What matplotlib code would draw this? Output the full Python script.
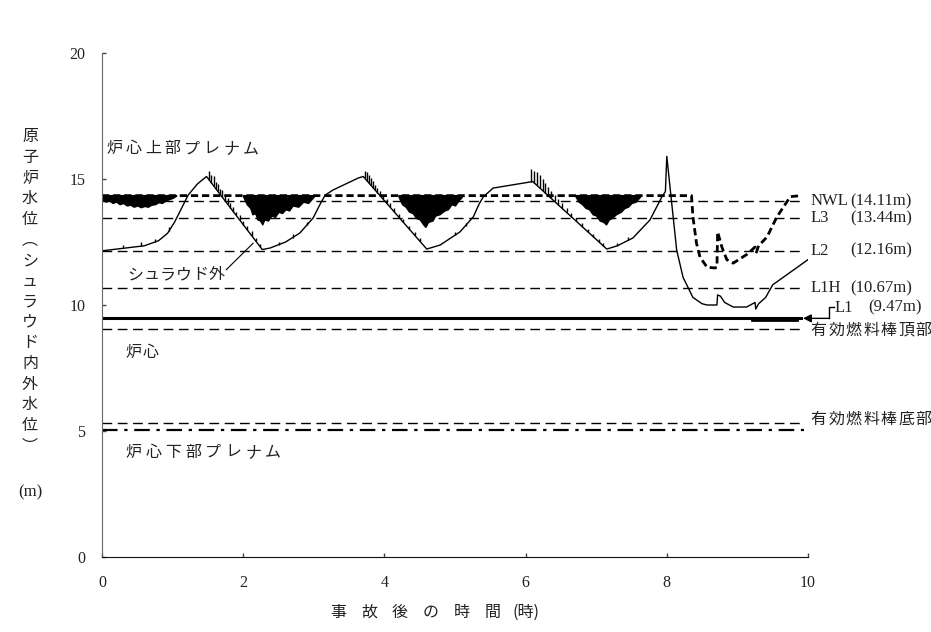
import numpy as np
import matplotlib
matplotlib.use("Agg")
import matplotlib.pyplot as plt
from matplotlib.transforms import offset_copy

# ---------------- data ----------------
# water level outside shroud (solid thin line)
out_t = [0.0, 0.3, 0.6, 0.8, 0.93, 1.03, 1.12, 1.22, 1.35, 1.48,
         2.27, 2.38, 2.6, 2.8, 2.99, 3.08, 3.16, 3.27, 3.45, 3.63, 3.7,
         4.6, 4.79, 5.07, 5.26, 5.34, 5.4, 5.54, 5.8, 6.06, 6.1,
         7.15, 7.3, 7.52, 7.76, 7.93, 7.98, 8.0, 8.05, 8.14, 8.23, 8.37, 8.5, 8.57,
         8.71, 8.72, 8.76, 8.82, 8.94, 9.13, 9.25, 9.26, 9.3, 9.4, 9.5, 9.7, 10.0]
out_h = [12.15, 12.25, 12.35, 12.55, 12.85, 13.3, 13.8, 14.36, 14.8, 15.1,
         12.2, 12.26, 12.5, 12.85, 13.45, 13.95, 14.36, 14.56, 14.8, 15.04, 15.1,
         12.22, 12.38, 12.9, 13.5, 14.0, 14.29, 14.64, 14.76, 14.88, 14.9,
         12.22, 12.35, 12.66, 13.37, 14.29, 14.5, 15.9, 14.56, 12.18, 11.1, 10.3, 10.05, 10.0,
         10.0, 10.4, 10.35, 10.1, 9.92, 9.92, 10.1, 9.84, 10.05, 10.3, 10.8, 11.2, 11.8]

# water level inside shroud (thick dashed line)
in_t = [0.0, 8.35, 8.37, 8.42, 8.47, 8.57, 8.68, 8.71, 8.72, 8.78, 8.85, 8.94,
        9.13, 9.25, 9.27, 9.3, 9.42, 9.56, 9.75, 9.9]
in_h = [14.34, 14.34, 13.5, 12.46, 11.9, 11.5, 11.47, 11.5, 12.9, 12.3, 11.8, 11.66,
        12.0, 12.3, 12.1, 12.35, 12.7, 13.5, 14.3, 14.34]

# oscillation bands (lower envelope below the inside level)
band_top = 14.36
band1_t = [0.0, 0.05, 0.1, 0.15, 0.2, 0.25, 0.3, 0.35, 0.4, 0.45, 0.5, 0.55, 0.6, 0.65, 0.7,
           0.75, 0.8, 0.85, 0.9, 0.95, 1.0, 1.05]
band1_h = [14.2, 14.1, 14.15, 14.05, 14.1, 14.0, 14.05, 13.95, 13.98, 13.9, 13.95, 13.88, 13.93,
           13.9, 13.98, 14.0, 14.08, 14.05, 14.15, 14.2, 14.25, 14.34]
band2_t = [2.0, 2.05, 2.1, 2.13, 2.17, 2.2, 2.24, 2.27, 2.3, 2.35, 2.4, 2.45, 2.5, 2.55, 2.6,
           2.65, 2.7, 2.78, 2.85, 2.92, 3.0]
band2_h = [14.3, 14.0, 13.85, 13.6, 13.65, 13.4, 13.35, 13.2, 13.4, 13.35, 13.55, 13.5, 13.7,
           13.65, 13.8, 13.75, 13.95, 13.9, 14.1, 14.05, 14.3]
band3_t = [4.2, 4.25, 4.3, 4.35, 4.4, 4.45, 4.5, 4.55, 4.58, 4.62, 4.68, 4.72, 4.78, 4.85,
           4.9, 4.95, 5.0, 5.05, 5.1]
band3_h = [14.3, 14.0, 13.9, 13.7, 13.65, 13.45, 13.4, 13.2, 13.1, 13.3, 13.35, 13.55, 13.6,
           13.75, 13.8, 14.0, 13.95, 14.15, 14.3]
band4_t = [6.7, 6.75, 6.8, 6.85, 6.9, 6.95, 7.0, 7.05, 7.1, 7.14, 7.18, 7.22, 7.28, 7.35,
           7.4, 7.45, 7.5, 7.56, 7.62]
band4_h = [14.34, 14.1, 14.0, 13.85, 13.8, 13.6, 13.55, 13.35, 13.3, 13.2, 13.4, 13.45, 13.6,
           13.7, 13.85, 13.9, 14.05, 14.1, 14.3]

# short spikes along the outside-level curve
spike_t = [0.3, 0.55, 0.75, 0.95,
           1.52, 1.55, 1.58, 1.61, 1.64, 1.67, 1.7, 1.74, 1.78, 1.82, 1.86, 1.9, 1.95, 2.0,
           2.06, 2.12, 2.18, 2.24,
           2.5, 2.7, 2.9,
           3.72, 3.75, 3.78, 3.81, 3.84, 3.87, 3.9, 3.94, 3.98, 4.03, 4.08, 4.14, 4.2, 4.27,
           4.35, 4.43, 4.5,
           5.0, 5.15,
           6.08, 6.12, 6.16, 6.2, 6.24, 6.28, 6.32, 6.36, 6.41, 6.46, 6.52, 6.58, 6.65, 6.72,
           6.8, 6.88, 6.96, 7.04, 7.1,
           7.3, 7.45]
spike_dh = [0.12, 0.15, 0.12, 0.15,
            0.35, 0.3, 0.4, 0.25, 0.3, 0.2, 0.28, 0.22, 0.25, 0.18, 0.2, 0.15, 0.2, 0.15,
            0.15, 0.18, 0.12, 0.12,
            0.12, 0.15, 0.12,
            0.3, 0.35, 0.3, 0.28, 0.25, 0.22, 0.2, 0.2, 0.18, 0.15, 0.18, 0.15, 0.12, 0.15,
            0.12, 0.12, 0.1,
            0.12, 0.12,
            0.5, 0.45, 0.55, 0.5, 0.45, 0.4, 0.35, 0.3, 0.25, 0.22, 0.2, 0.18, 0.15, 0.15,
            0.15, 0.12, 0.12, 0.1, 0.1,
            0.12, 0.12]

# reference levels
ref_names = ["NWL", "L3", "L2", "L1H"]
ref_vals = [14.11, 13.44, 12.16, 10.67]
ref_text = ["(14.11m)", "(13.44m)", "(12.16m)", "(10.67m)"]
l1_val = 9.47
taf_val = 9.05      # 有効燃料棒頂部
baf_val = 5.3       # 有効燃料棒底部
lower_plenum_val = 5.05

xticks = [0, 2, 4, 6, 8, 10]
yticks = [0, 5, 10, 15, 20]

# ---------------- plot ----------------
JP = ["Noto Sans CJK JP", "DejaVu Sans"]
SERIF = ["Liberation Serif", "Noto Sans CJK JP"]
TXT = "#222222"
JPSIZE = 11.5

W, H = 931, 632
fig = plt.figure(figsize=(W / 100, H / 100), dpi=100)
ax = fig.add_axes([102 / W, (H - 557) / H, 706 / W, (557 - 53) / H])
ax.set_xlim(0, 10)
ax.set_ylim(0, 20)

for s in ["top", "right"]:
    ax.spines[s].set_visible(False)
ax.spines["left"].set_color("#666666")
ax.spines["bottom"].set_color("#111111")
ax.set_xticks(xticks)
ax.set_yticks(yticks)
ax.tick_params(direction="in", length=3, width=1, colors="#444444", labelcolor=TXT)
ax.tick_params(axis="x", pad=13)
ax.tick_params(axis="y", pad=12)
for lab in ax.get_xticklabels() + ax.get_yticklabels():
    lab.set_family(SERIF)
    lab.set_fontsize(11.5)

dash = (0, (7, 4))
# reference dashed lines
for v in ref_vals:
    ax.plot([0, 9.95], [v, v], color="black", lw=1.0, ls=dash)
ax.plot([0, 9.95], [taf_val, taf_val], color="black", lw=1.0, ls=dash)
ax.plot([0, 9.95], [baf_val, baf_val], color="black", lw=1.0, ls=dash)
ax.plot([0, 9.95], [lower_plenum_val, lower_plenum_val], color="black", lw=1.6,
        ls=(0, (7, 3, 1.5, 3)))

# L1 thick line
ax.plot([0, 9.9], [l1_val, l1_val], color="black", lw=2.2)
ax.plot([9.2, 9.85], [l1_val - 0.06, l1_val - 0.06], color="black", lw=2.0)
ax.annotate("", xy=(9.93, l1_val), xytext=(10.3, l1_val),
            arrowprops=dict(arrowstyle="-|>", color="black", lw=1.0,
                            mutation_scale=12, shrinkA=0, shrinkB=0),
            annotation_clip=False)
ax.plot([10.3, 10.3, 10.37], [l1_val, 9.93, 9.93], color="black", lw=1.0, clip_on=False)

# oscillation bands
for bt, bh in [(band1_t, band1_h), (band2_t, band2_h), (band3_t, band3_h), (band4_t, band4_h)]:
    ax.fill_between(bt, bh, band_top, color="black", lw=1.0, edgecolor="black")

# inside level (thick dashed)
ax.plot(in_t, in_h, color="black", lw=2.0, ls=(0, (2.6, 1.4)))

# outside level
ax.plot(out_t, out_h, color="black", lw=1.0)
base = np.interp(spike_t, out_t, out_h)
ax.vlines(spike_t, base, base + np.array(spike_dh), color="black", lw=1.0)


def spaced(x, y, s, step, size=JPSIZE, family=JP, **kw):
    for i, ch in enumerate(s):
        tr = offset_copy(ax.transData, fig=fig, x=i * step, y=0, units="dots")
        ax.text(x, y, ch, transform=tr, ha="left", va="center", clip_on=False,
                family=family, fontsize=size, color=TXT, **kw)


spaced(0.06, 16.2, "炉心上部プレナム", 19.5)
spaced(0.36, 11.2, "シュラウド外", 16.3)
spaced(0.33, 8.1, "炉心", 17.5)
spaced(0.33, 4.15, "炉心下部プレナム", 20)
ax.plot([1.76, 2.14], [11.4, 12.45], color="black", lw=0.8)

# right-hand labels
for n, v, t in zip(ref_names, ref_vals, ref_text):
    ax.text(10.04, v, n, ha="left", va="center", family=SERIF, fontsize=12,
            color=TXT, clip_on=False)
    ax.text(10.6, v, t, ha="left", va="center", family=SERIF, fontsize=12,
            color=TXT, clip_on=False)
ax.text(10.38, 9.9, "L1", ha="left", va="center", family=SERIF, fontsize=12,
        color=TXT, clip_on=False)
ax.text(10.85, 9.9, "(9.47m)", ha="left", va="center", family=SERIF, fontsize=12,
        color=TXT, clip_on=False)
spaced(10.04, 9.0, "有効燃料棒頂部", 17.5)
spaced(10.04, 5.45, "有効燃料棒底部", 17.5)

# y-axis label (vertical)
ychars = list("原子炉水位︵シュラウド内外水位︶")
for i, ch in enumerate(ychars):
    fig.text(30 / W, 1 - (137 + i * 20.6) / H, ch, ha="center", va="center",
             family=JP, fontsize=JPSIZE, color=TXT)
fig.text(30 / W, 1 - 492 / H, "(m)", ha="center", va="center",
         family=SERIF, fontsize=12, color=TXT)

# x-axis label
for i, ch in enumerate("事故後の時間"):
    fig.text((338 + i * 31) / W, 1 - 612 / H, ch, ha="center", va="center",
             family=JP, fontsize=JPSIZE, color=TXT)
fig.text(513 / W, 1 - 612 / H, "(時)", ha="left", va="center",
         family=JP, fontsize=JPSIZE, color=TXT)

fig.savefig("out.png", dpi=100)
